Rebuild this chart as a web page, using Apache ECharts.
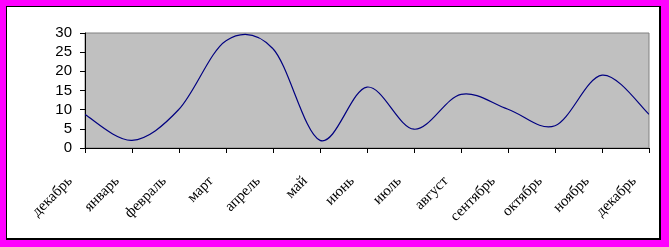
<!DOCTYPE html>
<html>
<head>
<meta charset="utf-8">
<script src="https://cdn.jsdelivr.net/npm/echarts@6/dist/echarts.min.js"></script>
<style>
  html, body { margin: 0; padding: 0; background: #ff00ff; width: 669px; height: 247px; overflow: hidden; }
  #frame { position: absolute; left: 6px; top: 6px; width: 652px; height: 231px; background: #ffffff;
           border-left: 1px solid #000; border-top: 1px solid #000; border-right: 2px solid #000; border-bottom: 2px solid #000; }
  #chart { position: absolute; left: 0; top: 0; width: 669px; height: 247px; }
</style>
</head>
<body>
<div id="frame"></div>
<div id="chart"></div>
<script>
const categories = ['декабрь', 'январь', 'февраль', 'март', 'апрель', 'май', 'июнь', 'июль', 'август', 'сентябрь', 'октябрь', 'ноябрь', 'декабрь'];
const values = [8.7, 2.0, 10.1, 28.0, 25.9, 2.0, 15.9, 4.9, 14.0, 10.1, 5.8, 19.0, 8.8];
const yTicks = [0, 5, 10, 15, 20, 25, 30];

const n = values.length;
const chart = echarts.init(document.getElementById('chart'), null, { renderer: 'canvas' });

function renderSegment(params, api) {
  const i = params.dataIndex;
  if (i >= n - 1) return null;
  const idx = k => Math.max(0, Math.min(n - 1, k));
  const pt = k => api.coord([idx(k), values[idx(k)]]);
  const p0 = pt(i - 1), p1 = pt(i), p2 = pt(i + 1), p3 = pt(i + 2);
  const t = 1 / 6;
  return {
    type: 'bezierCurve',
    shape: {
      x1: p1[0], y1: p1[1],
      cpx1: p1[0] + (p2[0] - p0[0]) * t, cpy1: p1[1] + (p2[1] - p0[1]) * t,
      cpx2: p2[0] - (p3[0] - p1[0]) * t, cpy2: p2[1] - (p3[1] - p1[1]) * t,
      x2: p2[0], y2: p2[1]
    },
    style: { stroke: '#000080', lineWidth: 1.2, fill: null }
  };
}

chart.setOption({
  animation: false,
  backgroundColor: 'transparent',
  grid: {
    left: 85, top: 33, width: 564, height: 115,
    show: true, backgroundColor: '#c0c0c0', borderColor: '#808080', borderWidth: 1
  },
  xAxis: {
    type: 'category',
    data: categories,
    boundaryGap: false,
    axisLine: { show: true, lineStyle: { color: '#000', width: 1 } },
    axisTick: { show: true, length: 5, interval: 0, lineStyle: { color: '#000' } },
    axisLabel: {
      interval: 0, rotate: 45, margin: 16,
      padding: [0, 21, 0, 0],
      fontFamily: 'Liberation Serif', fontSize: 15, color: '#000'
    },
    splitLine: { show: false }
  },
  yAxis: {
    type: 'value',
    min: yTicks[0], max: yTicks[yTicks.length - 1], interval: 5,
    axisLine: { show: true, lineStyle: { color: '#000', width: 1 } },
    axisTick: { show: true, length: 5, lineStyle: { color: '#000' } },
    axisLabel: { margin: 13, fontFamily: 'Liberation Sans', fontSize: 15, color: '#000' },
    splitLine: { show: false }
  },
  series: [{
    type: 'custom',
    renderItem: renderSegment,
    data: values.map((v, i) => [i, v]),
    encode: { x: 0, y: 1 },
    clip: true
  }]
});
</script>
</body>
</html>
